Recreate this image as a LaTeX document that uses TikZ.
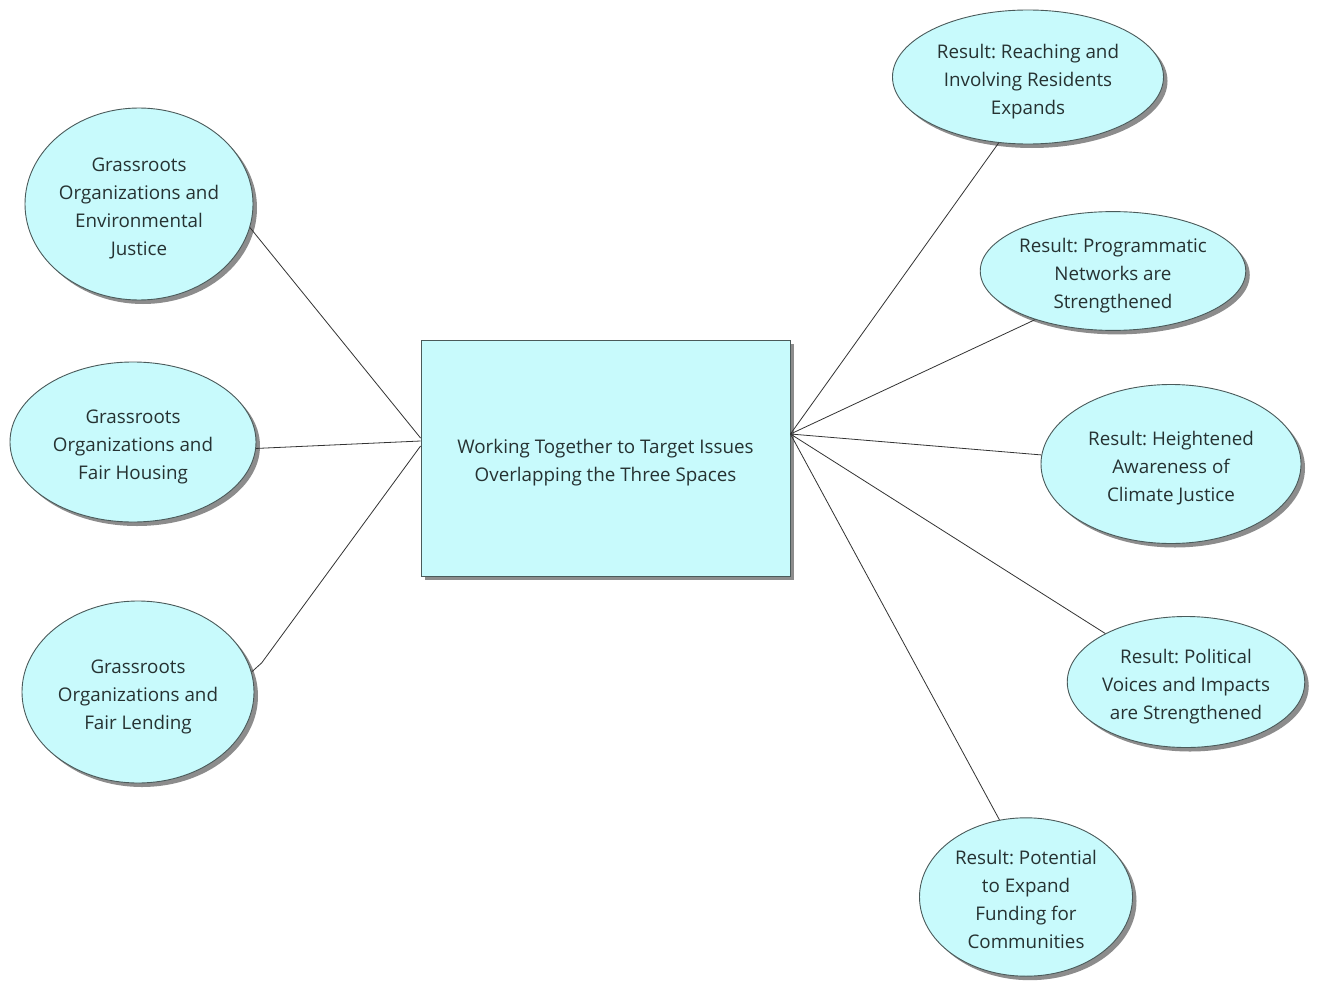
\documentclass[tikz,border=0pt]{standalone}
\usepackage{fontspec}
\setmainfont{Open Sans}
\usetikzlibrary{shapes.geometric,shadows,calc}
\definecolor{fillc}{HTML}{C8FAFC}
\definecolor{edgec}{HTML}{4A5A5A}
\definecolor{txtc}{HTML}{263232}
\frenchspacing
\newcommand{\mytx}[1]{\raisebox{-4pt}[\height][\depth]{\begin{tabular}{@{}c@{}}#1\end{tabular}}}
\tikzset{
  bubble/.style={ellipse, draw=edgec, line width=0.9pt, fill=fillc, inner sep=0pt,
    align=center, text=txtc, font=\fontsize{18.8}{28}\selectfont,
    drop shadow={shadow xshift=4pt, shadow yshift=-4pt, fill=black!45, opacity=1}},
  centerbox/.style={rectangle, draw=edgec, line width=0.9pt, fill=fillc, inner sep=0pt,
    align=center, text=txtc, font=\fontsize{18.8}{28}\selectfont,
    drop shadow={shadow xshift=4pt, shadow yshift=-4pt, fill=black!45, opacity=1}},
  link/.style={draw=black!80, line width=0.8pt}
}
\begin{document}
\begin{tikzpicture}[x=1pt,y=-1pt]
\useasboundingbox[fill=white] (0,0) rectangle (1320,982);
\node[centerbox, minimum width=369pt, minimum height=236pt] (c) at (605.5,458)
  {\mytx{Working Together to Target Issues\\Overlapping the Three Spaces}};
\node[bubble, minimum width=228pt, minimum height=192pt] (e1) at (139,204)
  {\mytx{Grassroots\\Organizations and\\Environmental\\Justice}};
\node[bubble, minimum width=246pt, minimum height=160pt] (e2) at (133,442)
  {\mytx{Grassroots\\Organizations and\\Fair Housing}};
\node[bubble, minimum width=232pt, minimum height=182pt] (e3) at (138,692)
  {\mytx{Grassroots\\Organizations and\\Fair Lending}};
\node[bubble, minimum width=271pt, minimum height=134pt] (r1) at (1028,77)
  {\mytx{Result: Reaching and\\Involving Residents\\Expands}};
\node[bubble, minimum width=262pt, minimum height=106pt] (r2) at (1113,271)
  {\mytx{Result: Programmatic\\Networks are\\Strengthened}};
\node[bubble, minimum width=260pt, minimum height=159pt] (r3) at (1171,464)
  {\mytx{Result: Heightened\\Awareness of\\Climate Justice}};
\node[bubble, minimum width=236pt, minimum height=131pt] (r4) at (1186,682)
  {\mytx{Result: Political\\Voices and Impacts\\are Strengthened}};
\node[bubble, minimum width=213pt, minimum height=154pt] (r5) at (1026,897)
  {\mytx{Result: Potential\\to Expand\\Funding for\\Communities}};
\coordinate (cl1) at ($(c.west)+(0,-20)$);
\coordinate (cl2) at ($(c.west)+(0,-17)$);
\coordinate (cl3) at ($(c.west)+(0,-12)$);
\coordinate (cr) at ($(c.east)+(0,-24)$);
\coordinate (k3) at ($(e3.10)+(10,-9)$);
\path[link] (e1.-12) -- (cl1);
\path[link] (e2.-3) -- (cl2);
\path[link] (e3.10) -- (k3) -- (cl3);
\path[link] (cr) -- (r1.-114);
\path[link] (cr) -- (r2.-148);
\path[link] (cr) -- (r3.176);
\path[link] (cr) -- (r4.149);
\path[link] (cr) -- (r5.109);
\end{tikzpicture}
\end{document}
